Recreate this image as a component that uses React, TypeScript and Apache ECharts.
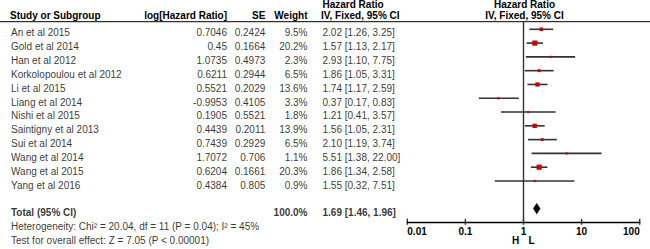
import React, { useEffect, useRef } from 'react';
import * as echarts from 'echarts';

// ---------------- data ----------------
const STUDIES = [
  'An et al 2015',
  'Gold et al 2014',
  'Han et al 2012',
  'Korkolopoulou et al 2012',
  'Li et al 2015',
  'Liang et al 2014',
  'Nishi et al 2015',
  'Saintigny et al 2013',
  'Sui et al 2014',
  'Wang et al 2014',
  'Wang et al 2015',
  'Yang et al 2016',
];
const LOG_HR = [0.7046, 0.45, 1.0735, 0.6211, 0.5521, -0.9953, 0.1905, 0.4439, 0.7439, 1.7072, 0.6204, 0.4384];
const SE = [0.2424, 0.1664, 0.4973, 0.2944, 0.2029, 0.4105, 0.5521, 0.2011, 0.2929, 0.706, 0.1661, 0.805];
const WEIGHT = [9.5, 20.2, 2.3, 6.5, 13.6, 3.3, 1.8, 13.9, 6.5, 1.1, 20.3, 0.9];
const HR = [2.02, 1.57, 2.93, 1.86, 1.74, 0.37, 1.21, 1.56, 2.1, 5.51, 1.86, 1.55];
const CI_LO = [1.26, 1.13, 1.1, 1.05, 1.17, 0.17, 0.41, 1.05, 1.19, 1.38, 1.34, 0.32];
const CI_HI = [3.25, 2.17, 7.75, 3.31, 2.59, 0.83, 3.57, 2.31, 3.74, 22.0, 2.58, 7.51];
const TOTAL_LABEL = 'Total (95% CI)';
const TOTAL_WEIGHT = 100.0;
const TOTAL_HR = 1.69;
const TOTAL_LO = 1.46;
const TOTAL_HI = 1.96;
const HETEROGENEITY = 'Heterogeneity: Chi² = 20.04, df = 11 (P = 0.04); I² = 45%';
const OVERALL_EFFECT = 'Test for overall effect: Z = 7.05 (P < 0.00001)';
const AXIS_TICKS = [0.01, 0.1, 1, 10, 100];
const FAVOURS_LEFT = 'H';
const FAVOURS_RIGHT = 'L';
const HEAD_STUDY = 'Study or Subgroup';
const HEAD_LOG = 'log[Hazard Ratio]';
const HEAD_SE = 'SE';
const HEAD_WEIGHT = 'Weight';
const HEAD_HR1 = 'Hazard Ratio';
const HEAD_HR2 = 'IV, Fixed, 95% CI';

// ---------------- layout ----------------
const W = 650;
const H = 249;
const FONT = '"Liberation Sans", Arial, Helvetica, sans-serif';
const FS = 10;
const FOREST_LEFT = 407.3;
const FOREST_RIGHT = 639.7;
const FOREST_TOP = 21.7;
const AXIS_Y = 221.8;
const LINE_Y0 = 29.3;
const LINE_DY = 13.79;
const TEXT_Y0 = 32.8;
const TEXT_DY = 13.85;
const TOTAL_ROW = 13;
const HET_ROW = 14;
const TEST_ROW = 15;
const X_NAME = 11;
const X_LOG = 227;
const X_SE = 265.3;
const X_WEIGHT = 307.5;
const X_HR = 322.5;
const HEADER_LINE_Y = 21.7;
const HEAD_Y1 = 4.6;
const HEAD_Y2 = 15.8;
const CENTER_X = 524.5;

const fMin = (FOREST_TOP - LINE_Y0) / LINE_DY;
const fMax = (AXIS_Y - LINE_Y0) / LINE_DY;
const tMin = (0 - TEXT_Y0) / TEXT_DY;
const tMax = (H - TEXT_Y0) / TEXT_DY;

const fmtCI = (h: number, l: number, u: number) => `${h.toFixed(2)} [${l.toFixed(2)}, ${u.toFixed(2)}]`;

function textSeries(items: { x: number; row: number; text: string }[], align: 'left' | 'right', bold = false) {
  return {
    type: 'scatter',
    xAxisIndex: 1,
    yAxisIndex: 1,
    symbolSize: 0,
    silent: true,
    clip: false,
    data: items.map((it) => ({ name: it.text, value: [it.x, it.row] })),
    label: {
      show: true,
      position: align === 'left' ? 'right' : 'left',
      distance: 0,
      formatter: (p: any) => p.name,
      fontFamily: FONT,
      fontSize: FS,
      fontWeight: bold ? 'bold' : 'normal',
      color: '#000',
    },
    emphasis: { disabled: true },
  };
}

export default function App() {
  const ref = useRef<HTMLDivElement>(null);

  useEffect(() => {
    if (!ref.current) return;
    const chart = echarts.init(ref.current, null, { renderer: 'svg', width: W, height: H });

    const headText = (text: string, x: number, y: number, align: string) => ({
      type: 'text',
      x,
      y,
      silent: true,
      style: {
        text,
        fontFamily: FONT,
        fontSize: FS,
        fontWeight: 'bold',
        fill: '#000',
        align,
        verticalAlign: 'middle',
      },
    });

    const option: any = {
      animation: false,
      backgroundColor: '#fff',
      grid: [
        {
          left: FOREST_LEFT,
          top: FOREST_TOP,
          width: FOREST_RIGHT - FOREST_LEFT,
          height: AXIS_Y - FOREST_TOP,
          containLabel: false,
        },
        { left: 0, top: 0, width: W, height: H, containLabel: false },
      ],
      xAxis: [
        {
          type: 'log',
          gridIndex: 0,
          logBase: 10,
          min: AXIS_TICKS[0],
          max: AXIS_TICKS[AXIS_TICKS.length - 1],
          axisLine: { show: true, onZero: false, lineStyle: { color: '#000', width: 1.3 } },
          axisTick: { show: false },
          splitLine: { show: false },
          axisLabel: {
            show: true,
            margin: 5,
            fontFamily: FONT,
            fontSize: FS,
            fontWeight: 'bold',
            color: '#000',
            showMinLabel: true,
            showMaxLabel: true,
            alignMinLabel: 'left',
            alignMaxLabel: 'right',
            formatter: (v: number) => String(Number(v.toPrecision(6))),
          },
        },
        { type: 'value', gridIndex: 1, min: 0, max: W, show: false },
      ],
      yAxis: [
        { type: 'value', gridIndex: 0, min: fMin, max: fMax, inverse: true, show: false },
        { type: 'value', gridIndex: 1, min: tMin, max: tMax, inverse: true, show: false },
      ],
      graphic: [
        {
          type: 'line',
          silent: true,
          shape: { x1: 0, y1: HEADER_LINE_Y, x2: W, y2: HEADER_LINE_Y },
          style: { stroke: '#000', lineWidth: 1 },
        },
        headText(HEAD_STUDY, X_NAME - 1, HEAD_Y2, 'left'),
        headText(HEAD_LOG, X_LOG, HEAD_Y2, 'right'),
        headText(HEAD_SE, X_SE, HEAD_Y2, 'right'),
        headText(HEAD_WEIGHT, X_WEIGHT, HEAD_Y2, 'right'),
        headText(HEAD_HR1, X_HR, HEAD_Y1, 'left'),
        headText(HEAD_HR2, X_HR - 1.5, HEAD_Y2, 'left'),
        headText(HEAD_HR1, CENTER_X, HEAD_Y1, 'center'),
        headText(HEAD_HR2, CENTER_X, HEAD_Y2, 'center'),
        headText(FAVOURS_LEFT, 515.5, 240.5, 'center'),
        headText(FAVOURS_RIGHT, 531.5, 240.5, 'center'),
      ],
      series: [
        // vertical line of no effect
        {
          type: 'line',
          xAxisIndex: 0,
          yAxisIndex: 0,
          silent: true,
          symbol: 'none',
          clip: false,
          data: [
            [1, fMin],
            [1, fMax],
          ],
          lineStyle: { color: '#333', width: 1.4 },
        },
        // axis ticks crossing the axis line
        {
          type: 'scatter',
          xAxisIndex: 0,
          yAxisIndex: 0,
          silent: true,
          clip: false,
          symbol: 'rect',
          symbolSize: [1.4, 6],
          itemStyle: { color: '#000' },
          data: AXIS_TICKS.map((t) => [t, fMax]),
        },
        // study CIs and squares
        {
          type: 'custom',
          xAxisIndex: 0,
          yAxisIndex: 0,
          silent: true,
          clip: false,
          encode: { x: 0, y: 1 },
          data: HR.map((v, i) => [v, i, CI_LO[i], CI_HI[i], WEIGHT[i]]),
          renderItem: (params: any, api: any) => {
            const row = api.value(1);
            const c = api.coord([api.value(0), row]);
            const l = api.coord([api.value(2), row]);
            const h = api.coord([api.value(3), row]);
            const s = Math.max(2.2, 1.15 * Math.sqrt(api.value(4)));
            return {
              type: 'group',
              children: [
                {
                  type: 'line',
                  shape: { x1: l[0], y1: c[1], x2: h[0], y2: c[1] },
                  style: { stroke: '#333', lineWidth: 1.6 },
                },
                {
                  type: 'rect',
                  shape: { x: c[0] - s / 2, y: c[1] - s / 2, width: s, height: s },
                  style: { fill: '#cc0000' },
                },
              ],
            };
          },
        },
        // total diamond
        {
          type: 'custom',
          xAxisIndex: 0,
          yAxisIndex: 0,
          silent: true,
          clip: false,
          encode: { x: 0, y: 1 },
          data: [[TOTAL_HR, TOTAL_ROW, TOTAL_LO, TOTAL_HI]],
          renderItem: (params: any, api: any) => {
            const row = api.value(1);
            const c = api.coord([api.value(0), row]);
            const l = api.coord([api.value(2), row]);
            const h = api.coord([api.value(3), row]);
            const hh = 5.6;
            return {
              type: 'polygon',
              shape: {
                points: [
                  [l[0], c[1]],
                  [c[0], c[1] - hh],
                  [h[0], c[1]],
                  [c[0], c[1] + hh],
                ],
              },
              style: { fill: '#000' },
            };
          },
        },
        // table texts
        textSeries(STUDIES.map((s, i) => ({ x: X_NAME, row: i, text: s })), 'left'),
        textSeries(LOG_HR.map((v, i) => ({ x: X_LOG, row: i, text: String(v) })), 'right'),
        textSeries(SE.map((v, i) => ({ x: X_SE, row: i, text: String(v) })), 'right'),
        textSeries(WEIGHT.map((v, i) => ({ x: X_WEIGHT, row: i, text: `${v.toFixed(1)}%` })), 'right'),
        textSeries(HR.map((v, i) => ({ x: X_HR, row: i, text: fmtCI(v, CI_LO[i], CI_HI[i]) })), 'left'),
        textSeries(
          [
            { x: X_NAME, row: TOTAL_ROW, text: TOTAL_LABEL },
            { x: X_HR, row: TOTAL_ROW, text: fmtCI(TOTAL_HR, TOTAL_LO, TOTAL_HI) },
          ],
          'left',
          true
        ),
        textSeries([{ x: X_WEIGHT, row: TOTAL_ROW, text: `${TOTAL_WEIGHT.toFixed(1)}%` }], 'right', true),
        textSeries(
          [
            { x: X_NAME, row: HET_ROW, text: HETEROGENEITY },
            { x: X_NAME, row: TEST_ROW, text: OVERALL_EFFECT },
          ],
          'left'
        ),
      ],
    };

    chart.setOption(option);
    return () => {
      chart.dispose();
    };
  }, []);

  return (
    <div
      ref={ref}
      style={{ position: 'fixed', left: 0, top: 0, width: W, height: H, background: '#fff' }}
    />
  );
}
